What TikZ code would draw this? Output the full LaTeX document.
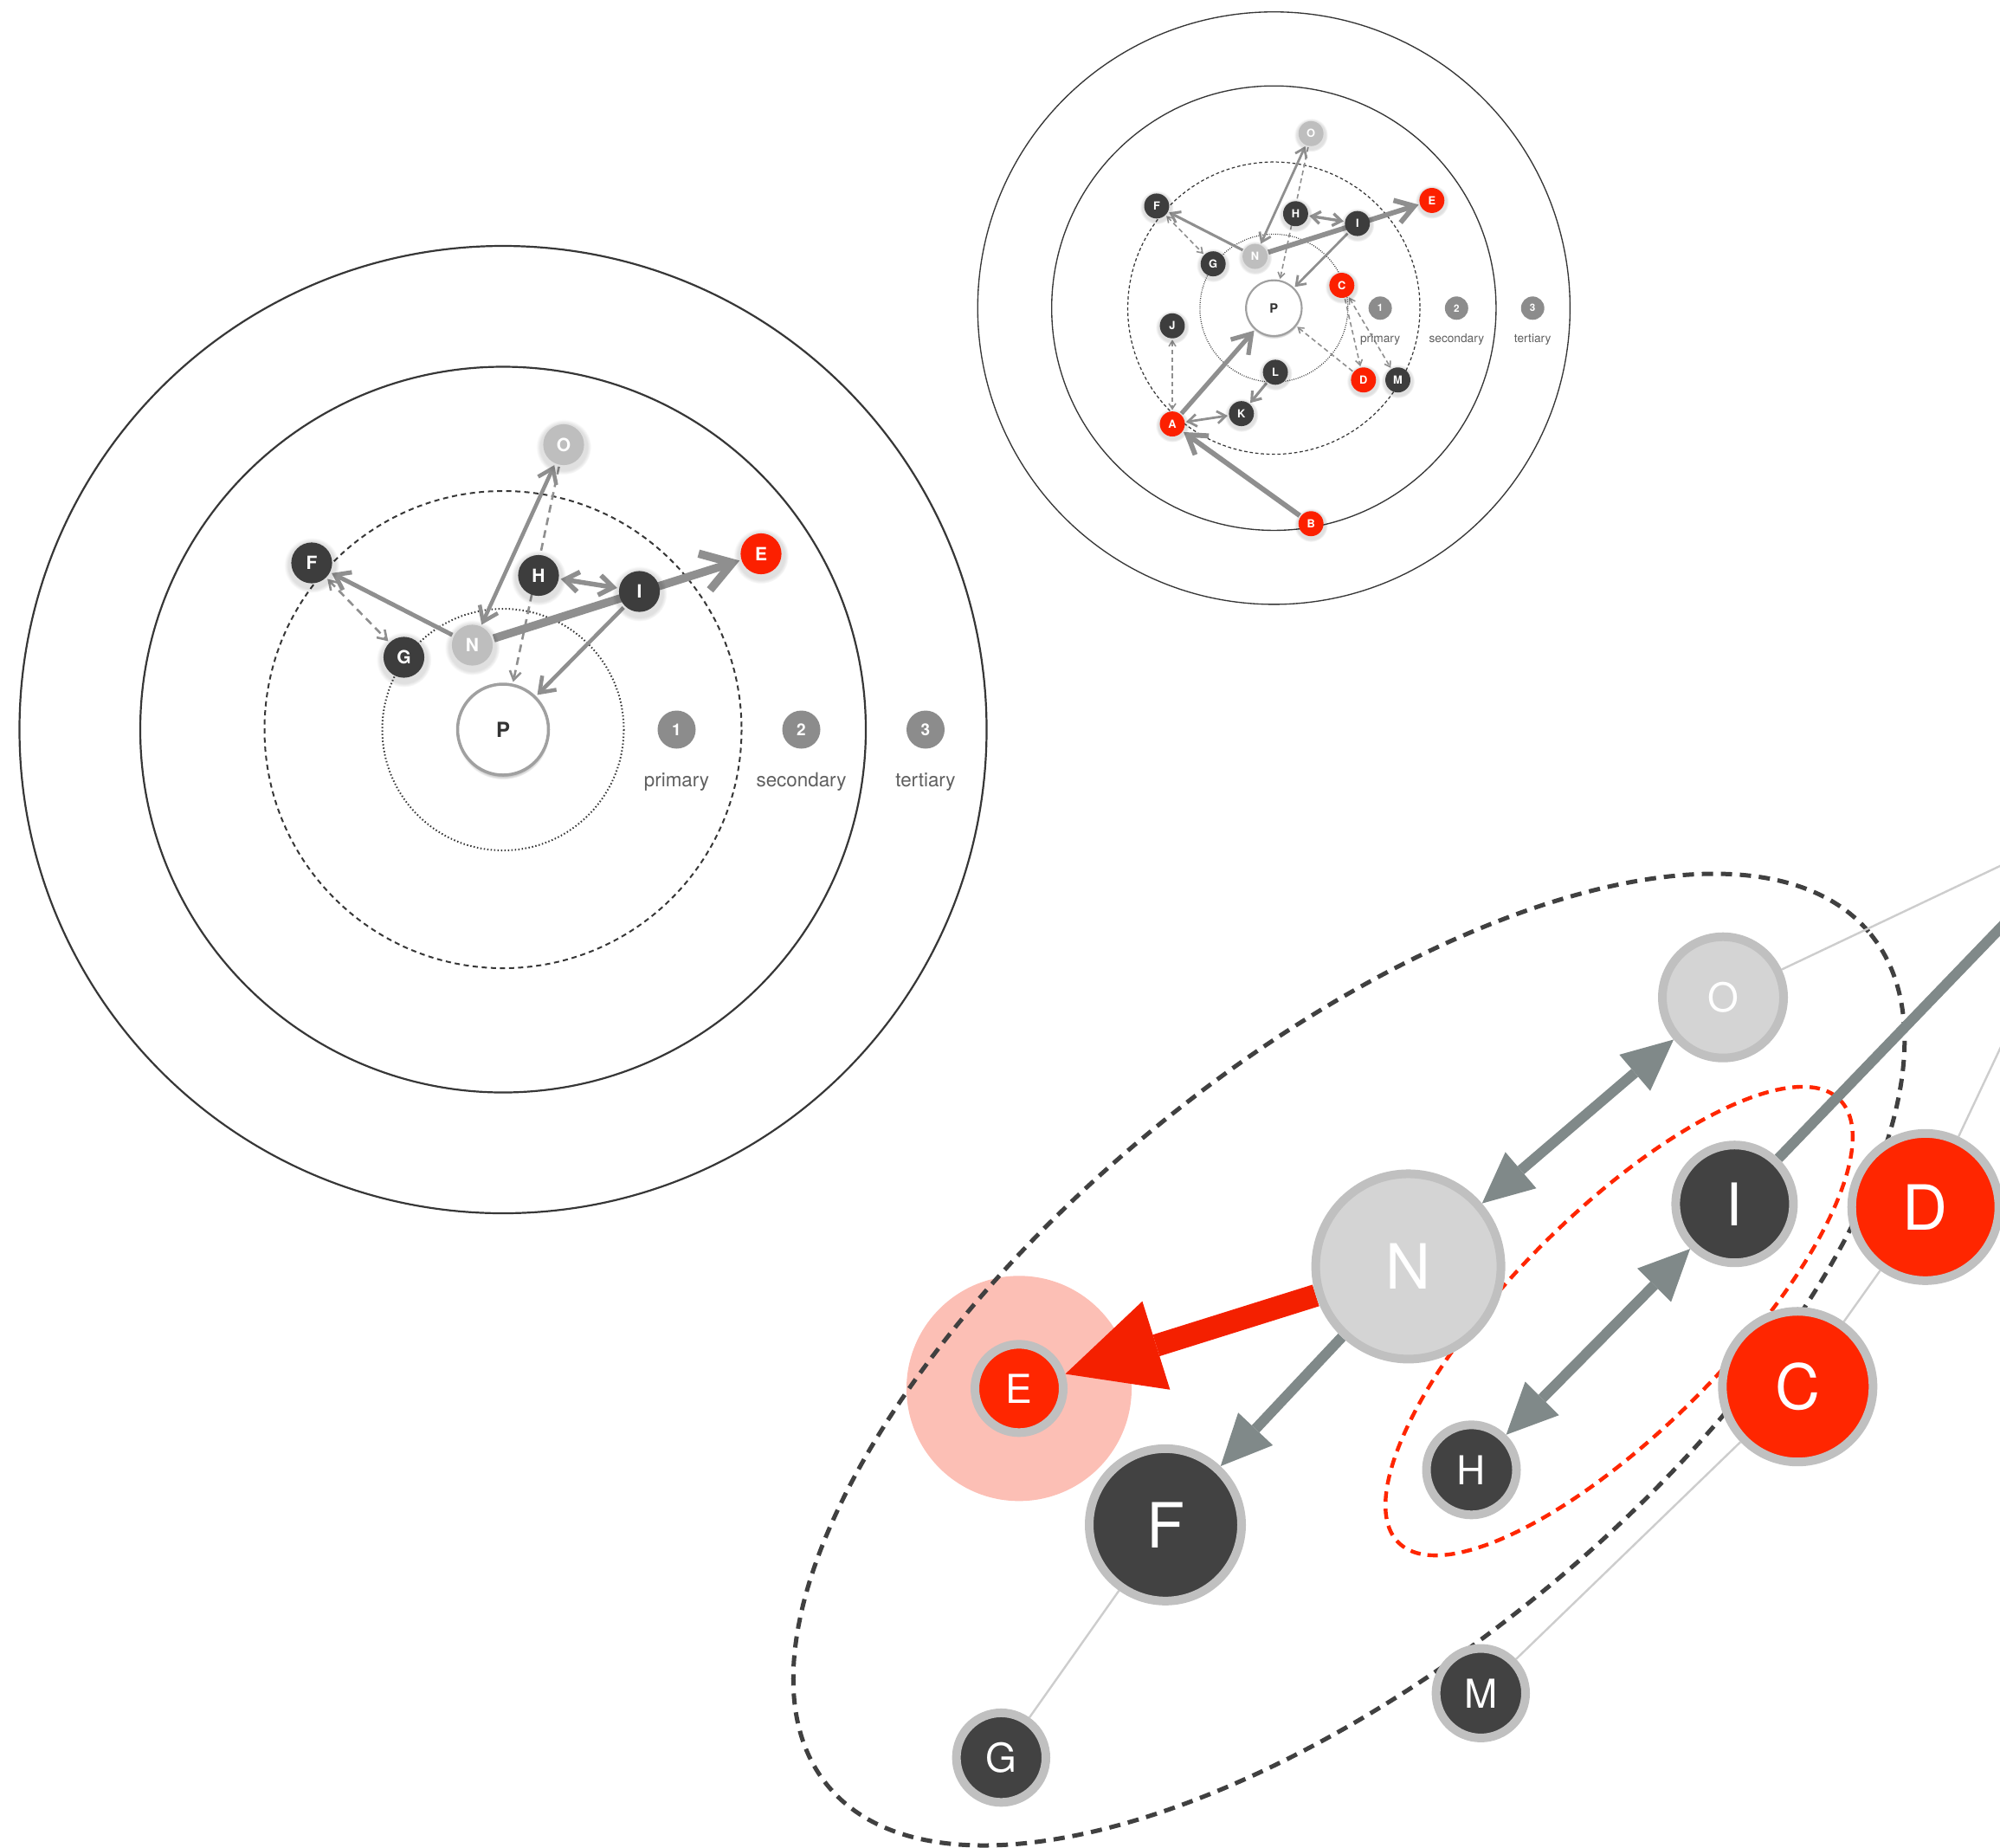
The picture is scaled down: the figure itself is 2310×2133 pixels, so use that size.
\documentclass[tikz,border=0pt]{standalone}
\usepackage{fontspec}
\setmainfont{TeX Gyre Heros}
\usetikzlibrary{arrows.meta,shadows}
\pgfdeclarelayer{back}
\pgfsetlayers{back,main}
% points per pixel of the large orbit copy; reset before each copy
\def\uscale{0.5}
\newcommand\ufont[1]{\fontsize{\fpeval{\uscale*#1}}{\fpeval{\uscale*#1}}\selectfont}
\definecolor{ringline}{RGB}{55,55,55}
\definecolor{nodedark}{RGB}{61,61,61}
\definecolor{nodered}{RGB}{252,32,0}
\definecolor{nodelight}{RGB}{190,190,190}
\definecolor{arrowgray}{RGB}{143,143,143}
\definecolor{keygray}{RGB}{140,140,140}
\definecolor{captiongray}{RGB}{95,95,95}
\definecolor{hubring}{RGB}{160,160,160}
\definecolor{bdark}{RGB}{66,66,66}
\definecolor{bred}{RGB}{255,38,0}
\definecolor{blight}{RGB}{212,212,212}
\definecolor{bring}{RGB}{192,192,192}
\definecolor{slate}{RGB}{128,137,137}
\definecolor{redarrow}{RGB}{244,32,0}
\definecolor{halopink}{RGB}{252,191,181}
\definecolor{thinline}{RGB}{205,205,205}
\definecolor{outline}{RGB}{64,64,64}

\tikzset{
  % concentric orbit diagram
  ring/.style={draw=ringline, line width=\uscale*2.2pt},
  ringdash/.style={draw=ringline, line width=\uscale*2pt, dash pattern=on \uscale*6pt off \uscale*4.5pt},
  ringdot/.style={draw=ringline, line width=\uscale*2pt, dash pattern=on \uscale*1.5pt off \uscale*2.5pt},
  orbdot/.style={circle, inner sep=0pt, minimum size=\uscale*47.2pt, text=white,
    font=\bfseries\ufont{21},
    circular drop shadow={shadow xshift=0pt, shadow yshift=-\uscale*2pt, shadow scale=1.35, opacity=0.12, fill=black}},
  dk/.style={orbdot, fill=nodedark},
  rd/.style={orbdot, fill=nodered},
  lt/.style={orbdot, fill=nodelight},
  hub/.style={circle, inner sep=0pt, minimum size=\uscale*105pt, fill=white, draw=hubring,
    line width=\uscale*3.5pt, text=black!80, font=\bfseries\ufont{24},
    circular drop shadow={shadow xshift=0pt, shadow yshift=-\uscale*4pt, shadow scale=1.02, opacity=0.45, fill=black}},
  legendkey/.style={circle, inner sep=0pt, minimum size=\uscale*44pt, fill=keygray, text=white,
    font=\bfseries\ufont{19}},
  ringlabel/.style={anchor=base, text=captiongray, inner sep=0pt, font=\ufont{22.4}},
  con/.style={draw=arrowgray, shorten >=\uscale*2pt, shorten <=\uscale*2pt},
  wS/.style={con, line width=\uscale*2.6pt, dash pattern=on \uscale*9pt off \uscale*6pt,
    >={Straight Barb[length=\uscale*10pt, width=\uscale*13pt]}},
  wM/.style={con, line width=\uscale*5pt, >={Straight Barb[length=\uscale*16pt, width=\uscale*23pt]}},
  wL/.style={con, line width=\uscale*9.5pt, >={Straight Barb[length=\uscale*34pt, width=\uscale*44pt]}},
  % enlarged detail view
  bnode/.style={circle, inner sep=0pt, draw=bring, line width=5pt, text=white},
  bs/.style={bnode, font=\fontsize{23pt}{23pt}\selectfont},
  bb/.style={bnode, font=\fontsize{36pt}{36pt}\selectfont},
  slatearrow/.style={draw=slate, line width=6pt,
    >={Triangle[length=29.5pt, width=27.5pt, line width=0pt]}},
  redarrowline/.style={draw=redarrow, line width=13pt,
    >={Triangle[length=55pt, width=53.5pt, line width=0pt]}},
  faint/.style={draw=thinline, line width=1.2pt},
  grouping/.style={draw=outline, line width=2.5pt, dash pattern=on 6.5pt off 4.5pt},
  subgrouping/.style={draw=bred, line width=2.2pt, dash pattern=on 6pt off 4pt},
}

% one orbit diagram around P; #1 = name prefix, #2 = 1 adds the outer members
\newcommand\orbit[2]{%
  \begin{pgfonlayer}{back}
    \draw[ring] (0,0) circle[radius=558.5];
    \draw[ring] (0,0) circle[radius=419];
    \draw[ringdash] (0,0) circle[radius=275.5];
    \draw[ringdot] (0,0) circle[radius=139.5];
  \end{pgfonlayer}
  \node[hub] (#1P) at (0,0) {P};
  \node[lt] (#1O) at (70,-329) {O};
  \node[dk] (#1F) at (-221,-192.5) {F};
  \node[dk] (#1H) at (41,-178) {H};
  \node[dk] (#1I) at (157.5,-159.5) {I};
  \node[rd] (#1E) at (298,-203) {E};
  \node[dk] (#1G) at (-114.5,-83.5) {G};
  \node[lt] (#1N) at (-35.5,-97.5) {N};
  \node[legendkey] (#1k1) at (200.5,0) {1};
  \node[legendkey] (#1k2) at (344.5,0) {2};
  \node[legendkey] (#1k3) at (488,0) {3};
  \node[ringlabel] (#1t1) at (200.5,65.5) {primary};
  \node[ringlabel] (#1t2) at (344.5,65.5) {secondary};
  \node[ringlabel] (#1t3) at (488,65.5) {tertiary};
  \begin{pgfonlayer}{back}
    \draw[wM, ->] (#1N) -- (#1F);
    \draw[wS, <->] (#1F) -- (#1G);
    \draw[wM, line width=\uscale*4.5pt, <->] (#1N) -- (#1O);
    \draw[wS, ->] (#1O) -- (#1P);
    \draw[wM, line width=\uscale*5.5pt, <->] (#1H) -- (#1I);
    \draw[wL, ->] (#1N) -- (#1E);
    \draw[wM, line width=\uscale*4.5pt, ->] (#1I) -- (#1P);
  \end{pgfonlayer}
  \ifnum#2=1
    \node[rd] (#1C) at (128.2,-42.9) {C};
    \node[dk] (#1J) at (-191.5,33.4) {J};
    \node[dk] (#1L) at (2.9,120.9) {L};
    \node[rd] (#1D) at (169,135.4) {D};
    \node[dk] (#1M) at (233.8,135.4) {M};
    \node[dk] (#1K) at (-61.2,198.9) {K};
    \node[rd] (#1A) at (-191.5,218.4) {A};
    \node[rd] (#1B) at (70,406.4) {B};
    \begin{pgfonlayer}{back}
      \draw[wS, ->] (#1C) -- (#1D);
      \draw[wS, <->] (#1C) -- (#1M);
      \draw[wS, ->] (#1D) -- (#1P);
      \draw[wS, <->] (#1J) -- (#1A);
      \draw[wL, line width=\uscale*8.5pt, ->] (#1A) -- (#1P);
      \draw[wL, ->] (#1B) -- (#1A);
      \draw[wM, ->] (#1L) -- (#1K);
      \draw[wM, line width=\uscale*4.5pt, <->] (#1A) -- (#1K);
    \end{pgfonlayer}
  \fi
}

\begin{document}
\begin{tikzpicture}[x=0.5pt, y=-0.5pt]
\useasboundingbox (0,0) rectangle (2310,2133);

% large orbit diagram
\def\uscale{0.5}
\begin{scope}[shift={(581,842.5)}, x=\uscale pt, y=-\uscale pt]
  \orbit{l}{0}
\end{scope}

% small orbit diagram with all members
\def\uscale{0.30625}
\begin{scope}[shift={(1471.3,355.8)}, x=\uscale pt, y=-\uscale pt]
  \orbit{r}{1}
\end{scope}

% enlarged detail of the N neighbourhood
\node[bs, fill=blight, minimum size=70pt] (bO) at (1990,1151.7) {O};
\node[bb, fill=blight, minimum size=107pt] (bN) at (1626.6,1462.4) {N};
\node[bb, fill=bdark, minimum size=68pt, font=\fontsize{34pt}{34pt}\selectfont] (bI) at (2003.4,1390.2) {I};
\node[bb, fill=bred, minimum size=85pt] (bD) at (2223.7,1393.8) {D};
\node[bb, fill=bred, minimum size=87pt] (bC) at (2076.3,1601.2) {C};
\node[bs, fill=bred, minimum size=51pt] (bE) at (1177,1603.3) {E};
\node[bb, fill=bdark, minimum size=88pt] (bF) at (1346,1760.8) {F};
\node[bs, fill=bdark, minimum size=52pt] (bH) at (1699.5,1697.3) {H};
\node[bs, fill=bdark, minimum size=51.7pt] (bG) at (1156.3,2029.6) {G};
\node[bs, fill=bdark, minimum size=51.7pt] (bM) at (1710.3,1955.2) {M};
\coordinate (bOend) at (2330,990.5);
\coordinate (bDend) at (2330,1168.6);
\coordinate (bIend) at (2330,1051.3);

\begin{pgfonlayer}{back}
  \fill[fill=halopink] (bE.center) circle[radius=130];
  \draw[grouping, rotate around={39.2:(1558,1570)}] (1558,1570) ellipse[x radius=777.5, y radius=349];
  \draw[subgrouping, rotate around={45.1:(1870,1525.5)}] (1870,1525.5) ellipse[x radius=361, y radius=125];
  \draw[faint] (bO) -- (bOend);
  \draw[faint] (bD) -- (bDend);
  \draw[faint] (bD) -- (bC);
  \draw[faint] (bC) -- (bM);
  \draw[faint] (bF) -- (bG);
  \draw[slatearrow] (bI) -- (bIend);
  \draw[slatearrow, ->] (bN) -- (bF);
  \draw[slatearrow, <->] (bN) -- (bO);
  \draw[slatearrow, <->] (bH) -- (bI);
  \draw[redarrowline, ->] (bN) -- (bE);
\end{pgfonlayer}
\end{tikzpicture}
\end{document}
